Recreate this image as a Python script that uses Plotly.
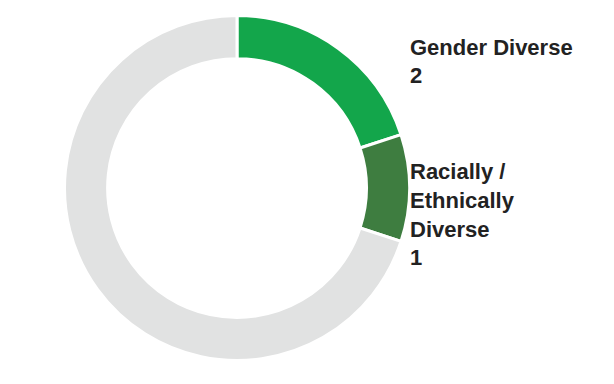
import plotly.graph_objects as go

categories = ["Gender Diverse", "Racially / Ethnically Diverse", "Other"]
values = [2, 1, 7]
colors = ["#13a64b", "#3e7d40", "#e1e2e2"]
label_lines = [["Gender Diverse", "2"], ["Racially /", "Ethnically", "Diverse", "1"]]

W, H = 614, 384

fig = go.Figure(go.Pie(
    labels=categories,
    values=values,
    hole=0.75,
    sort=False,
    direction="clockwise",
    rotation=0,
    marker=dict(colors=colors, line=dict(color="white", width=3)),
    textinfo="none",
    hoverinfo="none",
    showlegend=False,
    domain=dict(x=[56.5 / W, 401.5 / W], y=[(H - 352.5) / H, (H - 7.5) / H]),
))

starts = [39, 164]
spacing = 28.6
annotations = []
for start, lines in zip(starts, label_lines):
    for i, ln in enumerate(lines):
        y_px = start + i * spacing
        annotations.append(dict(
            text="<b>" + ln + "</b>",
            x=400 / W, y=1 - y_px / H,
            xref="paper", yref="paper",
            xanchor="left", yanchor="middle",
            showarrow=False,
            font=dict(family="Arial, Liberation Sans, sans-serif", size=22, color="#222222"),
        ))

fig.update_layout(
    width=W, height=H,
    margin=dict(l=0, r=0, t=0, b=0),
    paper_bgcolor="white",
    plot_bgcolor="white",
    annotations=annotations,
)

fig.write_html("out.html")
